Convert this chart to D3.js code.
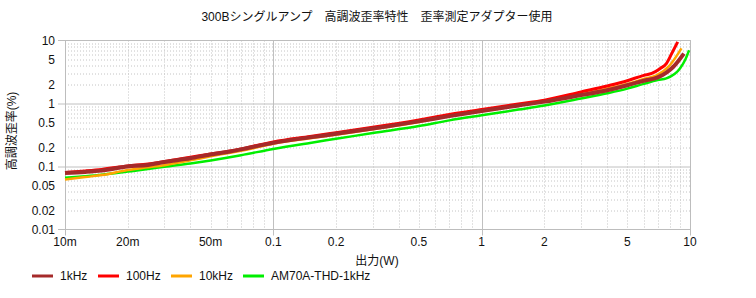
<!DOCTYPE html>
<html>
<head>
<meta charset="utf-8">
<script src="https://cdn.jsdelivr.net/npm/d3@7"></script>
<style>
  body { margin: 0; background: #fff; }
  svg { font-family: 'Liberation Sans', 'Noto Sans CJK JP', sans-serif; }
  .tick-label { font-size: 12px; fill: #111; }
</style>
</head>
<body>
<svg id="chart" width="756" height="298"></svg>
<script>
// tick values
var xTicks = [0.01, 0.02, 0.05, 0.1, 0.2, 0.5, 1, 2, 5, 10];
var xTickLabels = ['10m', '20m', '50m', '0.1', '0.2', '0.5', '1', '2', '5', '10'];
var yTicks = [10, 5, 2, 1, 0.5, 0.2, 0.1, 0.05, 0.02, 0.01];
var yTickLabels = ['10', '5', '2', '1', '0.5', '0.2', '0.1', '0.05', '0.02', '0.01'];

// 1kHz
var w1k = [0.01, 0.0125, 0.015, 0.02, 0.025, 0.03, 0.04, 0.05, 0.06, 0.07, 0.08, 0.1, 0.15, 0.2, 0.3, 0.5, 0.7, 1, 1.5, 2, 3, 4, 5, 6, 7, 7.7, 8.3, 9.35];
var thd1k = [0.079, 0.082, 0.086, 0.1, 0.106, 0.118, 0.135, 0.155, 0.17, 0.187, 0.205, 0.237, 0.29, 0.33, 0.4, 0.52, 0.63, 0.76, 0.93, 1.07, 1.36, 1.62, 1.95, 2.3, 2.6, 3.1, 3.8, 6.2];
// 100Hz
var w100 = [0.01, 0.0125, 0.015, 0.02, 0.025, 0.03, 0.04, 0.05, 0.06, 0.07, 0.08, 0.1, 0.15, 0.2, 0.3, 0.5, 0.7, 1, 1.5, 2, 3, 4, 5, 6, 6.55, 7.2, 7.7, 8.17, 8.73];
var thd100 = [0.08, 0.085, 0.09, 0.102, 0.11, 0.12, 0.14, 0.158, 0.173, 0.19, 0.21, 0.245, 0.3, 0.345, 0.42, 0.55, 0.67, 0.8, 0.98, 1.13, 1.53, 1.9, 2.3, 2.8, 3.0, 3.6, 4.3, 6.2, 9.5];
// 10kHz
var w10k = [0.01, 0.0125, 0.015, 0.02, 0.025, 0.03, 0.04, 0.05, 0.06, 0.07, 0.08, 0.1, 0.15, 0.2, 0.3, 0.5, 0.7, 1, 1.5, 2, 3, 4, 5, 6, 6.9, 8.0, 9.1];
var thd10k = [0.062, 0.068, 0.073, 0.088, 0.097, 0.105, 0.125, 0.145, 0.162, 0.178, 0.195, 0.23, 0.28, 0.32, 0.39, 0.51, 0.63, 0.76, 0.94, 1.09, 1.4, 1.72, 2.05, 2.45, 2.8, 4.05, 7.5];
// AM70A-THD-1kHz
var wAm = [0.01, 0.0125, 0.015, 0.02, 0.025, 0.03, 0.04, 0.05, 0.07, 0.1, 0.15, 0.2, 0.3, 0.5, 0.7, 1, 1.5, 2, 3, 4, 5, 6, 7, 7.7, 8.95, 9.5, 9.9];
var thdAm = [0.066, 0.07, 0.074, 0.083, 0.091, 0.099, 0.112, 0.125, 0.151, 0.19, 0.237, 0.275, 0.34, 0.44, 0.54, 0.65, 0.8, 0.93, 1.2, 1.45, 1.72, 2.05, 2.35, 2.5, 3.6, 5.0, 7.0];

function zip(xs, ys) {
    return xs.map(function(x, i) { return {w: x, thd: ys[i]}; });
}

var series = [
    {name: '1kHz', color: '#a52a2a', width: 4, values: zip(w1k, thd1k)},
    {name: '100Hz', color: '#ff0000', width: 3, values: zip(w100, thd100)},
    {name: '10kHz', color: '#ffa500', width: 2.5, values: zip(w10k, thd10k)},
    {name: 'AM70A-THD-1kHz', color: '#00ee00', width: 2.5, values: zip(wAm, thdAm)}
];

var svg = d3.select('#chart');
var padding = {t: 40.5, r: 66, b: 68.5, l: 65};
var svgWidth = +svg.attr('width');
var svgHeight = +svg.attr('height');
var chartWidth = svgWidth - padding.l - padding.r;
var chartHeight = svgHeight - padding.t - padding.b;

var xScale = d3.scaleLog().domain([0.01, 10]).range([0, chartWidth]);
var yScale = d3.scaleLog().domain([0.01, 10]).range([chartHeight, 0]);

var chartG = svg.append('g')
    .attr('transform', 'translate(' + [padding.l, padding.t] + ')');

// minor grid (dotted) at 2..9 of every decade
var minors = [];
[0.01, 0.1, 1].forEach(function(d) {
    for (var k = 2; k <= 9; k++) minors.push(d * k);
});
var majors = [0.1, 1];

chartG.selectAll('.vminor').data(minors).enter().append('line')
    .attr('x1', function(d) { return Math.round(xScale(d)) + 0.5; })
    .attr('x2', function(d) { return Math.round(xScale(d)) + 0.5; })
    .attr('y1', 0).attr('y2', chartHeight)
    .attr('stroke', '#c4c4c4').attr('stroke-dasharray', '1,2');

chartG.selectAll('.hminor').data(minors).enter().append('line')
    .attr('y1', function(d) { return Math.round(yScale(d)) + 0.5; })
    .attr('y2', function(d) { return Math.round(yScale(d)) + 0.5; })
    .attr('x1', 0).attr('x2', chartWidth)
    .attr('stroke', '#c4c4c4').attr('stroke-dasharray', '1,2');

chartG.selectAll('.vmajor').data(majors).enter().append('line')
    .attr('x1', function(d) { return Math.round(xScale(d)) + 0.5; })
    .attr('x2', function(d) { return Math.round(xScale(d)) + 0.5; })
    .attr('y1', 0).attr('y2', chartHeight + 6)
    .attr('stroke', '#c0c0c0');

chartG.selectAll('.hmajor').data(majors).enter().append('line')
    .attr('y1', function(d) { return Math.round(yScale(d)) + 0.5; })
    .attr('y2', function(d) { return Math.round(yScale(d)) + 0.5; })
    .attr('x1', -7).attr('x2', chartWidth)
    .attr('stroke', '#c0c0c0');

// frame
chartG.append('rect')
    .attr('x', 0.5).attr('y', 0)
    .attr('width', chartWidth).attr('height', chartHeight)
    .attr('fill', 'none').attr('stroke', '#bdbdbd');

// small outer ticks at the ends
chartG.selectAll('.yend').data([0.01, 10]).enter().append('line')
    .attr('x1', -7).attr('x2', 0)
    .attr('y1', function(d) { return yScale(d); })
    .attr('y2', function(d) { return yScale(d); })
    .attr('stroke', '#bdbdbd');
chartG.selectAll('.xend').data([0.01, 10]).enter().append('line')
    .attr('x1', function(d) { return xScale(d) + 0.5; })
    .attr('x2', function(d) { return xScale(d) + 0.5; })
    .attr('y1', chartHeight).attr('y2', chartHeight + 6)
    .attr('stroke', '#bdbdbd');

// curves
var line = d3.line()
    .x(function(d) { return xScale(d.w); })
    .y(function(d) { return yScale(d.thd); })
    .curve(d3.curveMonotoneX);

var drawOrder = [series[3], series[2], series[1], series[0]];
chartG.selectAll('.series').data(drawOrder).enter().append('path')
    .attr('class', 'series')
    .attr('d', function(d) { return line(d.values); })
    .attr('fill', 'none')
    .attr('stroke', function(d) { return d.color; })
    .attr('stroke-width', function(d) { return d.width; })
    .attr('stroke-linejoin', 'round');

// y tick labels
chartG.selectAll('.ylab').data(yTicks).enter().append('text')
    .attr('class', 'tick-label')
    .attr('x', -10)
    .attr('y', function(d) { return yScale(d); })
    .attr('dy', '0.36em')
    .attr('text-anchor', 'end')
    .text(function(d, i) { return yTickLabels[i]; });

// x tick labels
chartG.selectAll('.xlab').data(xTicks).enter().append('text')
    .attr('class', 'tick-label')
    .attr('x', function(d) { return xScale(d); })
    .attr('y', chartHeight + 16)
    .attr('text-anchor', 'middle')
    .text(function(d, i) { return xTickLabels[i]; });

// title and axis titles
svg.append('text')
    .attr('x', 377).attr('y', 21)
    .attr('text-anchor', 'middle')
    .style('font-size', '12px').style('fill', '#111')
    .text('300Bシングルアンプ　高調波歪率特性　歪率測定アダプター使用');

svg.append('text')
    .attr('x', 377).attr('y', 265)
    .attr('text-anchor', 'middle')
    .style('font-size', '12px').style('fill', '#111')
    .text('出力(W)');

svg.append('text')
    .attr('transform', 'translate(16,131) rotate(-90)')
    .attr('text-anchor', 'middle')
    .style('font-size', '12px').style('fill', '#111')
    .text('高調波歪率(%)');

// legend
var legendX = [32, 98, 171, 243];
var legend = svg.selectAll('.legend').data(series).enter().append('g')
    .attr('class', 'legend')
    .attr('transform', function(d, i) { return 'translate(' + [legendX[i], 276] + ')'; });
legend.append('line')
    .attr('x1', 0).attr('x2', 21)
    .attr('stroke', function(d) { return d.color; })
    .attr('stroke-width', 3);
legend.append('text')
    .attr('x', 28).attr('dy', '0.36em')
    .style('font-size', '12px').style('fill', '#111')
    .text(function(d) { return d.name; });
</script>
</body>
</html>
